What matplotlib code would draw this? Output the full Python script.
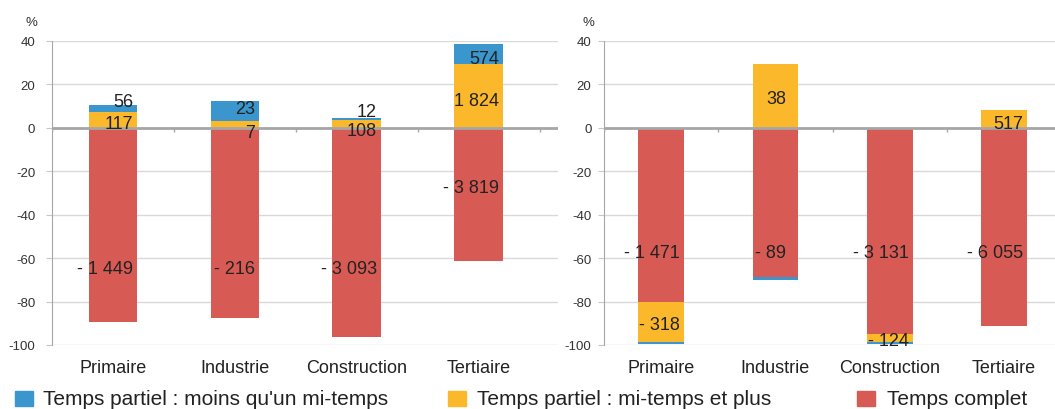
import numpy as np
import matplotlib.pyplot as plt
from matplotlib.patches import Rectangle

plt.rcParams['font.family'] = ['Liberation Sans', 'DejaVu Sans']
plt.rcParams['axes.unicode_minus'] = False

categories = ['Primaire', 'Industrie', 'Construction', 'Tertiaire']
series_names = ['Temps partiel : moins qu\'un mi-temps',
                'Temps partiel : mi-temps et plus',
                'Temps complet']

# values in % (left panel)
left_blue = [3.4, 9.3, 1.1, 8.9]
left_yellow = [7.2, 3.1, 3.4, 29.5]
left_red = [-89.4, -87.6, -96.3, -61.4]
left_blue_lbl = ['56', '23', '12', '574']
left_yellow_lbl = ['117', '7', '108', '1 824']
left_red_lbl = ['- 1 449', '- 216', '- 3 093', '- 3 819']

# values in % (right panel)
right_blue = [-1.2, -1.5, -0.8, 0.4]
right_yellow = [-18.2, 29.2, -3.9, 8.0]
right_red = [-80.3, -68.7, -94.9, -91.4]
right_blue_lbl = ['', '', '', '']
right_yellow_lbl = ['- 318', '38', '- 124', '517']
right_red_lbl = ['- 1 471', '- 89', '- 3 131', '- 6 055']

# label heights (in %), placed like the original
left_lbl_y = {'blue': [13.0, 9.8, 8.3, 32.9],
              'yellow': [2.9, -1.4, -0.5, 13.4],
              'red': [-64, -64, -64, -26.7]}
right_lbl_y = {'blue': [0, 0, 0, 0],
               'yellow': [-89.9, 14.1, -97.2, 2.6],
               'red': [-56.5, -56.5, -56.5, -56.5]}
right_lbl_dx = [0, -0.07, 0, 0]

colors = {'blue': '#3a96cd', 'yellow': '#fbb82b', 'red': '#d85a54'}
txt = '#222222'

W, H = 1055, 410
fig = plt.figure(figsize=(W / 100, H / 100), dpi=100)
fig.patch.set_facecolor('w')


def panel(rect, xlim, blue, yellow, red, lbls, lbl_y, lbl_dx, ypad):
    ax = fig.add_axes(rect)
    x = np.arange(len(categories))
    pos = np.zeros(len(x))
    neg = np.zeros(len(x))
    for key, vals in [('red', red), ('yellow', yellow), ('blue', blue)]:
        vals = np.array(vals)
        bottom = np.where(vals >= 0, pos, neg)
        ax.bar(x, vals, 0.4, bottom=bottom, color=colors[key], zorder=2)
        pos += np.where(vals >= 0, vals, 0)
        neg += np.where(vals < 0, vals, 0)
    for key in ['blue', 'yellow', 'red']:
        for i, s in enumerate(lbls[key]):
            if s:
                # small downward nudge: matplotlib centres on the full text box
                ax.text(i + 0.165 + lbl_dx[i], lbl_y[key][i] - 0.8, s, ha='right',
                        va='center', fontsize=13, color=txt, zorder=4)
    ax.set_xlim(*xlim)
    ax.set_ylim(-100, 40)
    ax.set_yticks(np.arange(-100, 41, 20))
    ax.set_yticklabels([str(v) for v in range(-100, 41, 20)])
    ax.grid(axis='y', color='#d9d9d9', lw=1, zorder=0)
    ax.axhline(0, color='#a6a6a6', lw=2, zorder=3)
    ax.vlines(np.arange(-0.5, 4, 1), -1.9, 0, color='#a6a6a6', lw=1, zorder=3)
    for sp in ['top', 'right', 'bottom']:
        ax.spines[sp].set_visible(False)
    ax.spines['left'].set_color('#a6a6a6')
    ax.tick_params(axis='y', length=4, color='#c8c8c8', pad=ypad,
                   labelsize=9.5, labelcolor='#333333')
    ax.set_xticks(x)
    ax.set_xticklabels(categories, fontsize=13, color=txt)
    ax.tick_params(axis='x', length=0, pad=10)
    return ax


bot = (H - 346) / H
hgt = (346 - 42) / H
panel([52 / W, bot, 506 / W, hgt], (-0.5, 3.65), left_blue, left_yellow, left_red,
      {'blue': left_blue_lbl, 'yellow': left_yellow_lbl, 'red': left_red_lbl},
      left_lbl_y, [0, 0, 0, 0], 8)
panel([604 / W, bot, 451 / W, hgt], (-0.5, 3.446), right_blue, right_yellow, right_red,
      {'blue': right_blue_lbl, 'yellow': right_yellow_lbl, 'red': right_red_lbl},
      right_lbl_y, right_lbl_dx, 5)

fig.text(37 / W, 1 - 23.5 / H, '%', ha='right', va='center', fontsize=9.5, color='#333333')
fig.text(594 / W, 1 - 23.5 / H, '%', ha='right', va='center', fontsize=9.5, color='#333333')

# legend
for (sx, tx), key, name in zip([(15, 43), (448, 477), (857, 887)],
                               ['blue', 'yellow', 'red'], series_names):
    fig.patches.append(Rectangle((sx / W, 1 - 407 / H), 18 / W, 15 / H,
                                 transform=fig.transFigure, color=colors[key]))
    fig.text(tx / W, 1 - 400 / H, name, ha='left', va='center', fontsize=15, color=txt)

plt.savefig('out.png', dpi=100)
